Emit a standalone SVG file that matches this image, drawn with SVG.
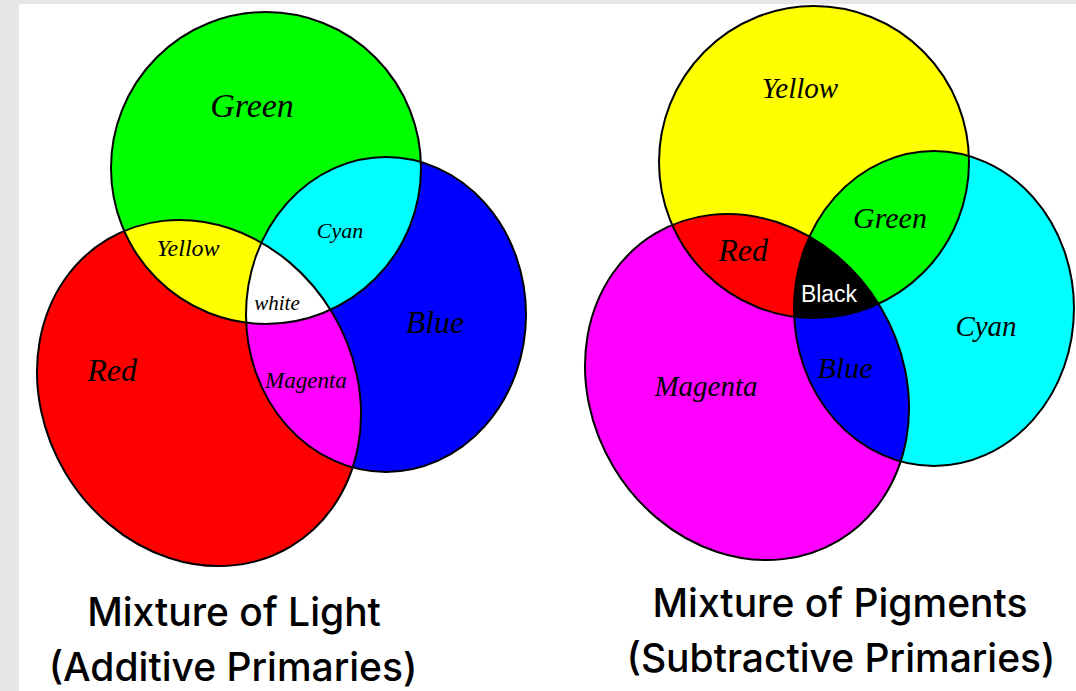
<svg xmlns="http://www.w3.org/2000/svg" xmlns:xlink="http://www.w3.org/1999/xlink" width="1076" height="691" viewBox="0 0 1076 691">
  <style>
    .edge { fill: none; stroke: #000; stroke-width: 2; }
    .hand { font-family: 'Liberation Serif', 'DejaVu Serif', serif; font-style: italic; fill: #000; text-anchor: middle; }
    .print { font-family: 'Liberation Sans', Arial, sans-serif; fill: #fff; text-anchor: middle; }
    .title { font-family: Inter, 'Noto Sans', sans-serif; font-weight: 500; font-size: 39px; fill: #000; text-anchor: middle; }
  </style>
  <defs>
    <!-- the three overlapping discs, shared by both diagrams -->
    <ellipse id="discLow" cx="199" cy="393" rx="178.8" ry="155.6" transform="rotate(59.2 199 393)"/>
    <ellipse id="discTop" cx="266" cy="168" rx="155" ry="156"/>
    <ellipse id="discRight" cx="386" cy="314.5" rx="140" ry="157.5"/>
    <clipPath id="clipLow"><use href="#discLow"/></clipPath>
    <clipPath id="clipTop"><use href="#discTop"/></clipPath>
    <clipPath id="clipRight"><use href="#discRight"/></clipPath>
  </defs>

  <!-- page -->
  <rect x="0" y="0" width="1076" height="691" fill="#e6e6e6"/>
  <rect x="19" y="4" width="1057" height="687" fill="#fff"/>

  <!-- additive mixing -->
  <g id="light">
    <g id="light-red"><use href="#discLow" fill="#ff0000"/></g>
    <g id="light-green"><use href="#discTop" fill="#00ff00"/></g>
    <g id="light-blue"><use href="#discRight" fill="#0000ff"/></g>
    <g id="light-yellow"><use href="#discLow" fill="#ffff00" clip-path="url(#clipTop)"/></g>
    <g id="light-cyan"><use href="#discTop" fill="#00ffff" clip-path="url(#clipRight)"/></g>
    <g id="light-magenta"><use href="#discLow" fill="#ff00ff" clip-path="url(#clipRight)"/></g>
    <g id="light-white" clip-path="url(#clipRight)"><use href="#discLow" fill="#ffffff" clip-path="url(#clipTop)"/></g>
    <g id="light-outlines">
      <use href="#discLow" class="edge"/>
      <use href="#discTop" class="edge"/>
      <use href="#discRight" class="edge"/>
    </g>
    <g id="light-labels">
      <text class="hand" x="252" y="117" font-size="34">Green</text>
      <text class="hand" x="188" y="256" font-size="24">Yellow</text>
      <text class="hand" x="340" y="238" font-size="22">Cyan</text>
      <text class="hand" x="277" y="310" font-size="21">white</text>
      <text class="hand" x="112" y="381" font-size="32">Red</text>
      <text class="hand" x="306" y="388" font-size="23">Magenta</text>
      <text class="hand" x="435" y="333" font-size="32">Blue</text>
    </g>
    <text class="title" x="234" y="626">Mixture of Light</text>
    <text class="title" x="233" y="681">(Additive Primaries)</text>
  </g>

  <!-- subtractive mixing -->
  <g id="pigments" transform="translate(548,-6)">
    <g id="pigment-magenta"><use href="#discLow" fill="#ff00ff"/></g>
    <g id="pigment-yellow"><use href="#discTop" fill="#ffff00"/></g>
    <g id="pigment-cyan"><use href="#discRight" fill="#00ffff"/></g>
    <g id="pigment-red"><use href="#discLow" fill="#ff0000" clip-path="url(#clipTop)"/></g>
    <g id="pigment-green"><use href="#discTop" fill="#00ff00" clip-path="url(#clipRight)"/></g>
    <g id="pigment-blue"><use href="#discLow" fill="#0000ff" clip-path="url(#clipRight)"/></g>
    <g id="pigment-black" clip-path="url(#clipRight)"><use href="#discLow" fill="#000000" clip-path="url(#clipTop)"/></g>
    <g id="pigment-outlines">
      <use href="#discLow" class="edge"/>
      <use href="#discTop" class="edge"/>
      <use href="#discRight" class="edge"/>
    </g>
  </g>
  <g id="pigment-labels">
    <text class="hand" x="800" y="98" font-size="29">Yellow</text>
    <text class="hand" x="743" y="261" font-size="32">Red</text>
    <text class="hand" x="890" y="228" font-size="30">Green</text>
    <text class="print" x="829" y="302" font-size="23">Black</text>
    <text class="hand" x="845" y="378" font-size="30">Blue</text>
    <text class="hand" x="706" y="396" font-size="29">Magenta</text>
    <text class="hand" x="986" y="336" font-size="29">Cyan</text>
  </g>
  <text class="title" x="840" y="617">Mixture of Pigments</text>
  <text class="title" x="841" y="672">(Subtractive Primaries)</text>
</svg>
